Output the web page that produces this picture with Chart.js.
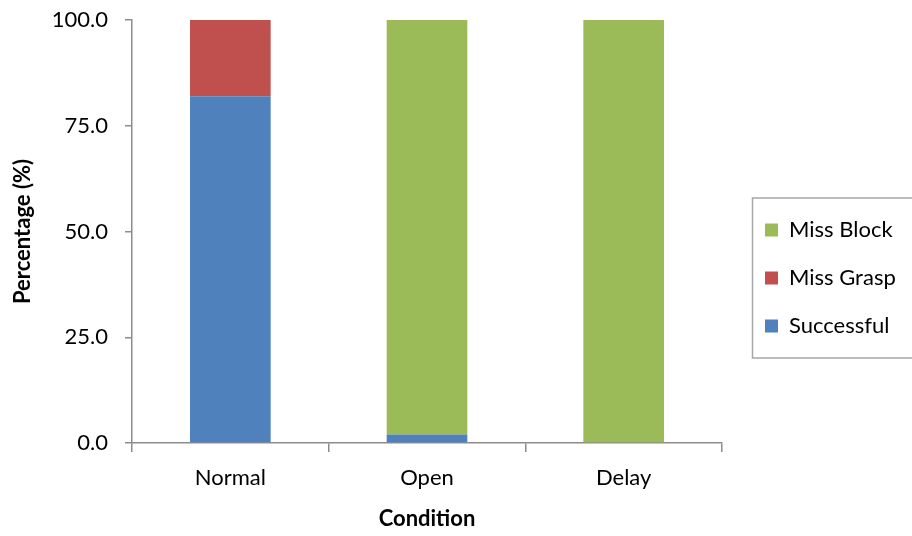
<!DOCTYPE html>
<html>
<head>
<meta charset="utf-8">
<script src="https://cdn.jsdelivr.net/npm/chart.js@4/dist/chart.umd.min.js"></script>
<style>
  html, body { margin: 0; padding: 0; background: #fff; }
  #wrap { width: 912px; height: 536px; }
</style>
</head>
<body>
<div id="wrap"><canvas id="chart1"></canvas></div>
<script>
const conditions = ['Normal', 'Open', 'Delay'];
const successful = [82, 2, 0];
const missGrasp = [18, 0, 0];
const missBlock = [0, 98, 100];
const yTicks = [0, 25, 50, 75, 100];

const axisColor = '#8c8c8c';
const fontFamily = 'Lato, "Open Sans", sans-serif';

// legend: fixed width, nudged right, with a frame like the original
const legendFrame = {
    id: 'legendFrame',
    afterInit(chart) {
        const lg = chart.legend;
        const origFit = lg.fit;
        lg.fit = function () {
            origFit.call(this);
            this.width = 190;
        };
    },
    afterLayout(chart) {
        const lg = chart.legend;
        lg.left += 17;
        lg.right += 17;
    },
    afterDraw(chart) {
        const lg = chart.legend;
        if (!lg || !lg.legendHitBoxes.length) return;
        const boxes = lg.legendHitBoxes;
        const ctx = chart.ctx;
        const top = boxes[0].top - 21;
        const bottom = boxes[boxes.length - 1].top + boxes[boxes.length - 1].height + 21;
        ctx.save();
        ctx.strokeStyle = '#a6a6a6';
        ctx.lineWidth = 1.5;
        ctx.strokeRect(752.5, top, 170, bottom - top);
        ctx.restore();
    }
};

const ctx = document.getElementById('chart1').getContext('2d');
new Chart(ctx, {
    type: 'bar',
    data: {
        labels: conditions,
        datasets: [
            { label: 'Successful', data: successful, backgroundColor: '#4f81bd' },
            { label: 'Miss Grasp', data: missGrasp, backgroundColor: '#c0504d' },
            { label: 'Miss Block', data: missBlock, backgroundColor: '#9bbb59' },
        ],
    },
    options: {
        responsive: true,
        maintainAspectRatio: false,
        animation: false,
        events: [],
        layout: { padding: { top: 20, right: 0, left: 0, bottom: 0 } },
        datasets: {
            bar: { barPercentage: 0.41, categoryPercentage: 1 },
        },
        plugins: {
            legend: {
                position: 'right',
                reverse: true,
                labels: {
                    font: { family: fontFamily, size: 22 },
                    color: '#000',
                    boxWidth: 13,
                    boxHeight: 13,
                    padding: 26,
                },
            },
            tooltip: { enabled: false },
        },
        scales: {
            x: {
                stacked: true,
                grid: {
                    offset: true,
                    drawOnChartArea: false,
                    drawTicks: true,
                    tickLength: 9,
                    color: axisColor,
                    lineWidth: 1.5,
                },
                border: { color: axisColor, width: 1.5 },
                ticks: {
                    font: { family: fontFamily, size: 22 },
                    color: '#000',
                    padding: 13,
                },
                title: {
                    display: true,
                    text: 'Condition',
                    font: { family: fontFamily, size: 22, weight: 'bold' },
                    color: '#000',
                    padding: { top: 4 },
                },
                afterFit(scale) { scale.height = 93; },
            },
            y: {
                stacked: true,
                min: 0,
                max: 100,
                afterBuildTicks(scale) {
                    scale.ticks = yTicks.map(v => ({ value: v }));
                },
                grid: {
                    drawOnChartArea: false,
                    drawTicks: true,
                    tickLength: 7,
                    color: axisColor,
                    lineWidth: 1.5,
                },
                border: { color: axisColor, width: 1.5 },
                ticks: {
                    font: { family: fontFamily, size: 22 },
                    color: '#000',
                    padding: 17,
                    callback: v => Number(v).toFixed(1),
                },
                title: {
                    display: true,
                    text: 'Percentage (%)',
                    font: { family: fontFamily, size: 22, weight: 'bold' },
                    color: '#000',
                    padding: { top: 10, bottom: 4 },
                },
                afterFit(scale) {
                    scale.width = 132;
                    scale.paddingTop = 0;
                    scale.paddingBottom = 0;
                },
            },
        },
    },
    plugins: [legendFrame],
});
</script>
</body>
</html>
